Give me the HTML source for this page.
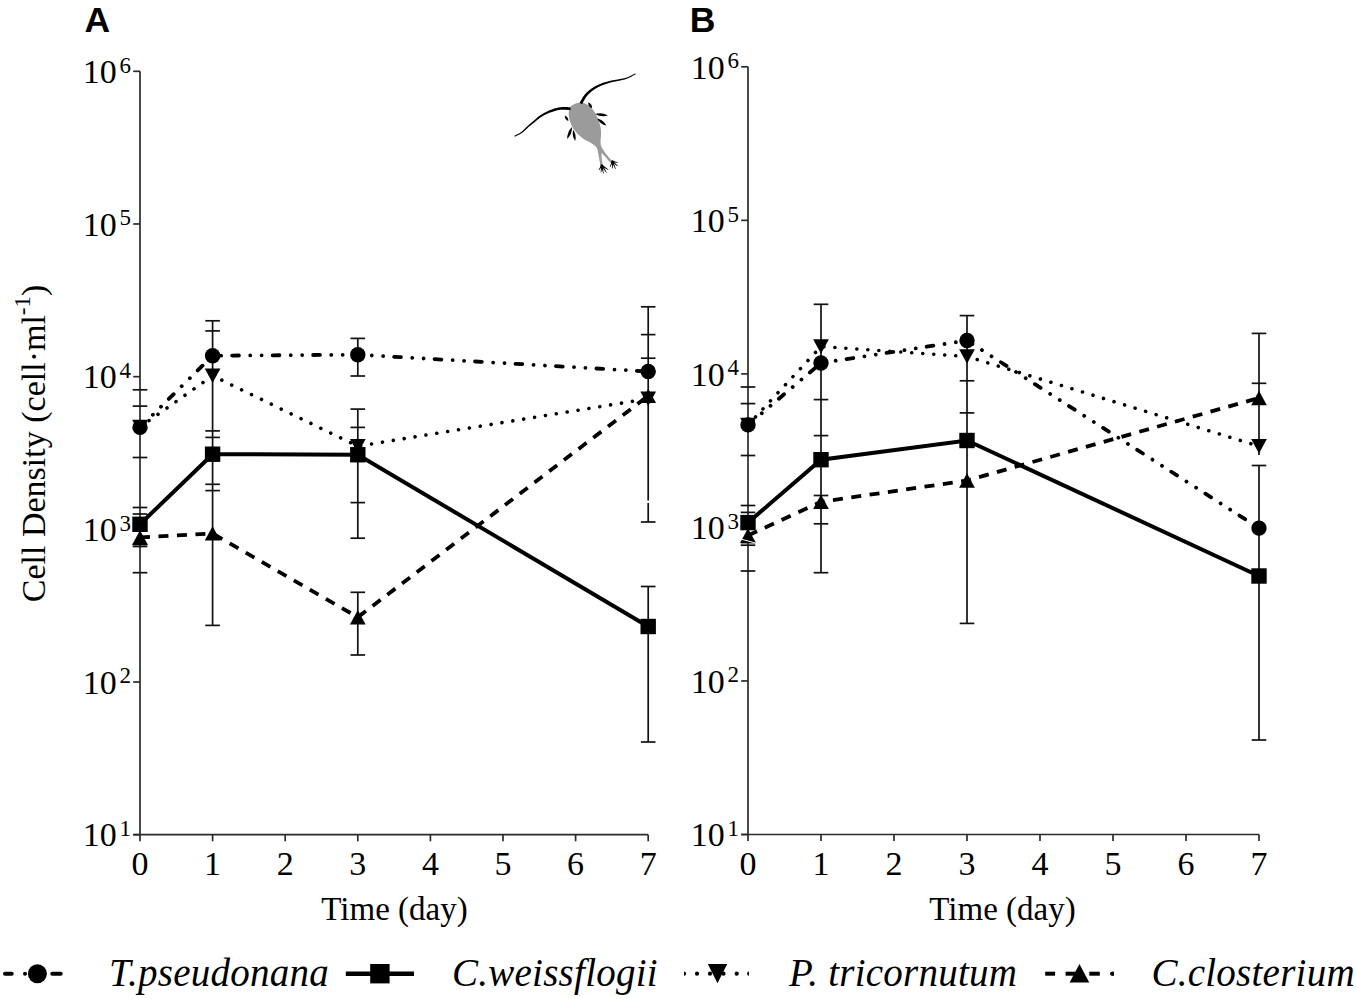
<!DOCTYPE html><html><head><meta charset="utf-8"><title>Cell density</title><style>
html,body{margin:0;padding:0;background:#fff;width:1356px;height:999px;overflow:hidden}
svg{display:block}
text{font-family:"Liberation Serif", serif}
text.sans{font-family:"Liberation Sans", sans-serif}
</style></head><body>
<svg width="1356" height="999" viewBox="0 0 1356 999">
<rect width="1356" height="999" fill="#fff"/>
<g stroke="#2a2a2a" stroke-width="1.7" fill="none">
<path d="M140.00,71.30 V841.30"/>
<path d="M133.20,834.70 H648.20"/>
<path d="M133.20,71.30 H140.00"/>
<path d="M133.20,223.98 H140.00"/>
<path d="M133.20,376.66 H140.00"/>
<path d="M133.20,529.34 H140.00"/>
<path d="M133.20,682.02 H140.00"/>
<path d="M133.20,834.70 H140.00"/>
<path d="M212.60,834.70 V841.30"/>
<path d="M285.20,834.70 V841.30"/>
<path d="M357.80,834.70 V841.30"/>
<path d="M430.40,834.70 V841.30"/>
<path d="M503.00,834.70 V841.30"/>
<path d="M575.60,834.70 V841.30"/>
<path d="M648.20,834.70 V841.30"/>
</g>
<text x="116.80" y="83.00" font-size="34" text-anchor="end">10</text>
<text x="119.40" y="72.70" font-size="23">6</text>
<text x="116.80" y="235.68" font-size="34" text-anchor="end">10</text>
<text x="119.40" y="225.38" font-size="23">5</text>
<text x="116.80" y="388.36" font-size="34" text-anchor="end">10</text>
<text x="119.40" y="378.06" font-size="23">4</text>
<text x="116.80" y="541.04" font-size="34" text-anchor="end">10</text>
<text x="119.40" y="530.74" font-size="23">3</text>
<text x="116.80" y="693.72" font-size="34" text-anchor="end">10</text>
<text x="119.40" y="683.42" font-size="23">2</text>
<text x="116.80" y="846.40" font-size="34" text-anchor="end">10</text>
<text x="119.40" y="836.10" font-size="23">1</text>
<text x="140.00" y="875.30" font-size="34" text-anchor="middle">0</text>
<text x="212.60" y="875.30" font-size="34" text-anchor="middle">1</text>
<text x="285.20" y="875.30" font-size="34" text-anchor="middle">2</text>
<text x="357.80" y="875.30" font-size="34" text-anchor="middle">3</text>
<text x="430.40" y="875.30" font-size="34" text-anchor="middle">4</text>
<text x="503.00" y="875.30" font-size="34" text-anchor="middle">5</text>
<text x="575.60" y="875.30" font-size="34" text-anchor="middle">6</text>
<text x="648.20" y="875.30" font-size="34" text-anchor="middle">7</text>
<text x="321.31" y="920.4" font-size="33">Time (day)</text>
<text x="84.60" y="32" font-size="35.5" font-weight="bold" class="sans">A</text>
<g stroke="#111" stroke-width="1.7" fill="none">
<path d="M132.70,389.80 H147.30"/>
<path d="M132.70,406.10 H147.30"/>
<path d="M132.70,457.50 H147.30"/>
<path d="M132.70,507.50 H147.30"/>
<path d="M132.70,514.00 H147.30"/>
<path d="M132.70,544.60 H147.30"/>
<path d="M132.70,546.50 H147.30"/>
<path d="M132.70,572.70 H147.30"/>
<path d="M212.60,320.80 V625.40"/>
<path d="M205.30,320.80 H219.90"/>
<path d="M205.30,330.90 H219.90"/>
<path d="M205.30,430.90 H219.90"/>
<path d="M205.30,437.40 H219.90"/>
<path d="M205.30,484.30 H219.90"/>
<path d="M205.30,490.60 H219.90"/>
<path d="M205.30,625.40 H219.90"/>
<path d="M357.80,338.40 V376.00"/>
<path d="M357.80,409.10 V538.20"/>
<path d="M357.80,592.30 V655.00"/>
<path d="M350.50,338.40 H365.10"/>
<path d="M350.50,376.00 H365.10"/>
<path d="M350.50,409.10 H365.10"/>
<path d="M350.50,427.40 H365.10"/>
<path d="M350.50,502.60 H365.10"/>
<path d="M350.50,538.20 H365.10"/>
<path d="M350.50,592.30 H365.10"/>
<path d="M350.50,655.00 H365.10"/>
<path d="M648.20,306.80 V500.50"/>
<path d="M648.20,503.00 V522.00"/>
<path d="M648.20,586.50 V742.00"/>
<path d="M640.90,306.80 H655.50"/>
<path d="M640.90,334.60 H655.50"/>
<path d="M640.90,358.20 H655.50"/>
<path d="M640.90,522.00 H655.50"/>
<path d="M640.90,586.50 H655.50"/>
<path d="M640.90,742.00 H655.50"/>
</g>
<polyline points="140.00,537.50 212.60,533.40 357.80,617.20 648.20,395.85" fill="none" stroke="#000" stroke-width="3.8" stroke-dasharray="10 8.5"/>
<polyline points="140.00,427.00 212.60,375.75 357.80,446.20 648.20,398.75" fill="none" stroke="#000" stroke-width="3.6" stroke-dasharray="0.01 11" stroke-linecap="round"/>
<polyline points="140.00,524.30 212.60,454.20 357.80,454.75 648.20,626.50" fill="none" stroke="#000" stroke-width="4.0" />
<polyline points="140.00,427.40 212.60,355.70 357.80,354.70 648.20,371.50" fill="none" stroke="#000" stroke-width="3.8" stroke-dasharray="6.8 11.3 0.01 11.4 0.01 11" stroke-linecap="round"/>
<path d="M140.00,530.30 L147.85,544.70 L132.15,544.70 Z"/>
<path d="M212.60,526.20 L220.45,540.60 L204.75,540.60 Z"/>
<path d="M357.80,610.00 L365.65,624.40 L349.95,624.40 Z"/>
<path d="M648.20,388.65 L656.05,403.05 L640.35,403.05 Z"/>
<path d="M140.00,434.20 L147.85,419.80 L132.15,419.80 Z"/>
<path d="M212.60,382.95 L220.45,368.55 L204.75,368.55 Z"/>
<path d="M357.80,453.40 L365.65,439.00 L349.95,439.00 Z"/>
<path d="M648.20,405.95 L656.05,391.55 L640.35,391.55 Z"/>
<rect x="132.30" y="516.60" width="15.40" height="15.40"/>
<rect x="204.90" y="446.50" width="15.40" height="15.40"/>
<rect x="350.10" y="447.05" width="15.40" height="15.40"/>
<rect x="640.50" y="618.80" width="15.40" height="15.40"/>
<circle cx="140.00" cy="427.40" r="7.70"/>
<circle cx="212.60" cy="355.70" r="7.70"/>
<circle cx="357.80" cy="354.70" r="7.70"/>
<circle cx="648.20" cy="371.50" r="7.70"/>
<g stroke="#2a2a2a" stroke-width="1.7" fill="none">
<path d="M748.00,66.80 V841.10"/>
<path d="M741.20,834.50 H1259.00"/>
<path d="M741.20,66.80 H748.00"/>
<path d="M741.20,220.34 H748.00"/>
<path d="M741.20,373.88 H748.00"/>
<path d="M741.20,527.42 H748.00"/>
<path d="M741.20,680.96 H748.00"/>
<path d="M741.20,834.50 H748.00"/>
<path d="M821.00,834.50 V841.10"/>
<path d="M894.00,834.50 V841.10"/>
<path d="M967.00,834.50 V841.10"/>
<path d="M1040.00,834.50 V841.10"/>
<path d="M1113.00,834.50 V841.10"/>
<path d="M1186.00,834.50 V841.10"/>
<path d="M1259.00,834.50 V841.10"/>
</g>
<text x="724.80" y="78.50" font-size="34" text-anchor="end">10</text>
<text x="727.40" y="68.20" font-size="23">6</text>
<text x="724.80" y="232.04" font-size="34" text-anchor="end">10</text>
<text x="727.40" y="221.74" font-size="23">5</text>
<text x="724.80" y="385.58" font-size="34" text-anchor="end">10</text>
<text x="727.40" y="375.28" font-size="23">4</text>
<text x="724.80" y="539.12" font-size="34" text-anchor="end">10</text>
<text x="727.40" y="528.82" font-size="23">3</text>
<text x="724.80" y="692.66" font-size="34" text-anchor="end">10</text>
<text x="727.40" y="682.36" font-size="23">2</text>
<text x="724.80" y="846.20" font-size="34" text-anchor="end">10</text>
<text x="727.40" y="835.90" font-size="23">1</text>
<text x="748.00" y="875.30" font-size="34" text-anchor="middle">0</text>
<text x="821.00" y="875.30" font-size="34" text-anchor="middle">1</text>
<text x="894.00" y="875.30" font-size="34" text-anchor="middle">2</text>
<text x="967.00" y="875.30" font-size="34" text-anchor="middle">3</text>
<text x="1040.00" y="875.30" font-size="34" text-anchor="middle">4</text>
<text x="1113.00" y="875.30" font-size="34" text-anchor="middle">5</text>
<text x="1186.00" y="875.30" font-size="34" text-anchor="middle">6</text>
<text x="1259.00" y="875.30" font-size="34" text-anchor="middle">7</text>
<text x="929.31" y="920.4" font-size="33">Time (day)</text>
<text x="689.70" y="32" font-size="35.5" font-weight="bold" class="sans">B</text>
<g stroke="#111" stroke-width="1.7" fill="none">
<path d="M740.70,387.00 H755.30"/>
<path d="M740.70,403.60 H755.30"/>
<path d="M740.70,455.50 H755.30"/>
<path d="M740.70,505.50 H755.30"/>
<path d="M740.70,512.40 H755.30"/>
<path d="M740.70,542.60 H755.30"/>
<path d="M740.70,545.20 H755.30"/>
<path d="M740.70,571.00 H755.30"/>
<path d="M821.00,304.30 V572.70"/>
<path d="M813.70,304.30 H828.30"/>
<path d="M813.70,399.60 H828.30"/>
<path d="M813.70,435.60 H828.30"/>
<path d="M813.70,495.50 H828.30"/>
<path d="M813.70,523.80 H828.30"/>
<path d="M813.70,572.70 H828.30"/>
<path d="M967.00,315.60 V623.40"/>
<path d="M959.70,315.60 H974.30"/>
<path d="M959.70,380.80 H974.30"/>
<path d="M959.70,412.90 H974.30"/>
<path d="M959.70,623.40 H974.30"/>
<path d="M1259.00,333.40 V455.00"/>
<path d="M1259.00,465.50 V740.00"/>
<path d="M1251.70,333.40 H1266.30"/>
<path d="M1251.70,383.30 H1266.30"/>
<path d="M1251.70,465.50 H1266.30"/>
<path d="M1251.70,740.00 H1266.30"/>
</g>
<polyline points="748.00,535.50 821.00,501.80 967.00,480.50 1259.00,397.95" fill="none" stroke="#000" stroke-width="3.8" stroke-dasharray="10 8.5"/>
<polyline points="748.00,425.00 821.00,346.50 967.00,356.50 1259.00,446.20" fill="none" stroke="#000" stroke-width="3.6" stroke-dasharray="0.01 11" stroke-linecap="round"/>
<polyline points="748.00,522.60 821.00,459.70 967.00,440.50 1259.00,576.00" fill="none" stroke="#000" stroke-width="4.0" />
<polyline points="748.00,424.90 821.00,363.00 967.00,340.50 1259.00,528.10" fill="none" stroke="#000" stroke-width="3.8" stroke-dasharray="6.8 11.3 0.01 11.4 0.01 11" stroke-linecap="round"/>
<path d="M748.00,528.30 L755.85,542.70 L740.15,542.70 Z"/>
<path d="M821.00,494.60 L828.85,509.00 L813.15,509.00 Z"/>
<path d="M967.00,473.30 L974.85,487.70 L959.15,487.70 Z"/>
<path d="M1259.00,390.75 L1266.85,405.15 L1251.15,405.15 Z"/>
<path d="M748.00,432.20 L755.85,417.80 L740.15,417.80 Z"/>
<path d="M821.00,353.70 L828.85,339.30 L813.15,339.30 Z"/>
<path d="M967.00,363.70 L974.85,349.30 L959.15,349.30 Z"/>
<path d="M1259.00,453.40 L1266.85,439.00 L1251.15,439.00 Z"/>
<rect x="740.30" y="514.90" width="15.40" height="15.40"/>
<rect x="813.30" y="452.00" width="15.40" height="15.40"/>
<rect x="959.30" y="432.80" width="15.40" height="15.40"/>
<rect x="1251.30" y="568.30" width="15.40" height="15.40"/>
<circle cx="748.00" cy="424.90" r="7.70"/>
<circle cx="821.00" cy="363.00" r="7.70"/>
<circle cx="967.00" cy="340.50" r="7.70"/>
<circle cx="1259.00" cy="528.10" r="7.70"/>
<path d="M740.9,539.1 L755.6,543" stroke="#fff" stroke-width="1"/>
<text transform="translate(44.5,602.2) rotate(-90)" font-size="34">Cell Density (cell&#183;ml<tspan font-size="23" dy="-14.5">-1</tspan><tspan dy="14.5">)</tspan></text>
<g stroke="#000" stroke-width="4" stroke-linecap="round">
<path d="M5,973.7 H11.7"/>
<path d="M25,973.7 h0.01"/>
<path d="M52.3,973.7 H60.7"/>
</g>
<circle cx="37.4" cy="973.7" r="9.5" fill="#000"/>
<text x="109.06" y="985.7" font-size="39" font-style="italic" letter-spacing="0.25">T.pseudonana</text>
<path d="M345.8,973.7 H414" stroke="#000" stroke-width="4.5"/>
<rect x="370.2" y="964.0" width="19.4" height="19.4" fill="#000"/>
<text x="452.02" y="985.7" font-size="39" font-style="italic" letter-spacing="0.25">C.weissflogii</text>
<clipPath id="lc3"><rect x="684" y="960" width="65" height="30"/></clipPath>
<g stroke="#000" stroke-width="4.2" stroke-linecap="round" clip-path="url(#lc3)">
<path d="M684.0,973.7 h0.01"/>
<path d="M697.0,973.7 h0.01"/>
<path d="M710.0,973.7 h0.01"/>
<path d="M723.5,973.7 h0.01"/>
<path d="M736.7,973.7 h0.01"/>
<path d="M749.2,973.7 h0.01"/>
</g>
<path d="M707.8,964 L727.2,964 L717.5,983.2 Z" fill="#000"/>
<text x="789.1" y="985.7" font-size="39" font-style="italic" letter-spacing="0.25">P. tricornutum</text>
<g stroke="#000" stroke-width="4">
<path d="M1045.2,973.7 H1055.1"/>
<path d="M1065.6,973.7 H1076.1"/>
<path d="M1089.3,973.7 H1099.8"/>
</g>
<circle cx="1112" cy="973.7" r="2" fill="#000"/><rect x="1112" y="971.7" width="2" height="4" fill="#000"/>
<path d="M1069.6,982.5 L1089.3,982.5 L1079.45,964.1 Z" fill="#000"/>
<text x="1151.42" y="985.7" font-size="39" font-style="italic" letter-spacing="0.25">C.closterium</text>
<g><path d="M570.40,107.00 L571.03,106.25 L571.79,105.58 L572.63,104.98 L573.55,104.44 L574.51,103.99 L575.50,103.60 L576.54,103.28 L577.67,103.02 L578.84,102.83 L580.03,102.73 L581.19,102.71 L582.30,102.80 L583.36,103.00 L584.39,103.29 L585.41,103.68 L586.40,104.15 L587.36,104.69 L588.30,105.30 L589.21,105.97 L590.10,106.71 L590.96,107.53 L591.80,108.41 L592.61,109.37 L593.40,110.40 L594.17,111.53 L594.93,112.78 L595.66,114.09 L596.35,115.44 L597.00,116.79 L597.60,118.10 L598.15,119.37 L598.65,120.64 L599.11,121.90 L599.52,123.16 L599.88,124.43 L600.20,125.70 L600.46,126.98 L600.68,128.26 L600.84,129.54 L600.97,130.83 L601.05,132.12 L601.10,133.40 L601.08,134.71 L600.99,136.05 L600.86,137.39 L600.73,138.70 L600.63,139.95 L600.60,141.10 L600.61,142.13 L600.63,143.05 L600.69,143.91 L600.80,144.74 L601.00,145.59 L601.30,146.50 L601.72,147.45 L602.23,148.40 L602.82,149.37 L603.49,150.37 L604.22,151.41 L605.00,152.50 L605.91,153.73 L606.97,155.09 L608.09,156.50 L609.20,157.85 L610.19,159.05 L611.00,160.00 L611.64,160.66 L612.18,161.11 L612.61,161.41 L612.93,161.61 L613.13,161.79 L613.20,162.00 L613.14,162.32 L612.97,162.72 L612.68,163.09 L612.25,163.33 L611.70,163.34 L611.00,163.00 L610.06,162.17 L608.86,160.91 L607.52,159.41 L606.18,157.87 L604.96,156.50 L604.00,155.50 L603.28,154.74 L602.70,154.04 L602.25,153.50 L601.91,153.24 L601.66,153.37 L601.50,154.00 L601.50,155.41 L601.67,157.57 L601.95,160.12 L602.24,162.70 L602.45,164.95 L602.50,166.50 L602.38,167.42 L602.16,168.02 L601.86,168.28 L601.51,168.20 L601.15,167.78 L600.80,167.00 L600.45,165.67 L600.07,163.76 L599.67,161.50 L599.27,159.13 L598.87,156.88 L598.50,155.00 L598.19,153.46 L597.95,152.06 L597.71,150.79 L597.43,149.63 L597.04,148.54 L596.50,147.50 L595.78,146.54 L594.91,145.68 L593.95,144.90 L592.92,144.17 L591.86,143.48 L590.80,142.80 L589.73,142.18 L588.61,141.63 L587.47,141.12 L586.31,140.60 L585.15,140.01 L584.00,139.30 L582.85,138.47 L581.67,137.54 L580.49,136.56 L579.34,135.52 L578.23,134.46 L577.20,133.40 L576.22,132.32 L575.28,131.20 L574.38,130.06 L573.54,128.90 L572.78,127.74 L572.10,126.60 L571.51,125.47 L571.01,124.33 L570.59,123.20 L570.22,122.07 L569.89,120.93 L569.60,119.80 L569.33,118.66 L569.09,117.50 L568.89,116.35 L568.75,115.21 L568.68,114.09 L568.70,113.00 L568.79,111.92 L568.95,110.84 L569.18,109.79 L569.49,108.78 L569.89,107.84 Z" fill="#9b9b9b"/>
<path d="M570.57,107.25 L570.05,107.23 L569.37,107.20 L568.54,107.16 L567.61,107.11 L566.61,107.06 L565.56,107.02 L564.50,107.00 L563.45,107.00 L562.44,107.02 L561.51,107.08 L560.64,107.18 L559.81,107.29 L558.99,107.43 L558.20,107.58 L557.41,107.76 L556.64,107.95 L555.87,108.15 L555.10,108.37 L554.33,108.60 L553.55,108.85 L552.75,109.12 L551.93,109.40 L551.11,109.71 L550.30,110.03 L549.48,110.37 L548.67,110.71 L547.88,111.06 L547.11,111.42 L546.36,111.77 L545.63,112.13 L544.94,112.48 L544.26,112.83 L543.61,113.19 L542.97,113.55 L542.35,113.92 L541.73,114.30 L541.13,114.68 L540.53,115.07 L539.94,115.48 L539.34,115.90 L538.75,116.34 L538.17,116.79 L537.60,117.25 L537.05,117.72 L536.50,118.20 L535.96,118.68 L535.42,119.16 L534.87,119.65 L534.31,120.14 L533.74,120.63 L533.16,121.13 L532.56,121.64 L531.95,122.16 L531.34,122.68 L530.72,123.21 L530.10,123.74 L529.47,124.29 L528.85,124.83 L528.23,125.38 L527.60,125.94 L526.98,126.52 L526.38,127.11 L525.78,127.72 L525.18,128.33 L524.59,128.93 L523.99,129.52 L523.39,130.10 L522.79,130.66 L522.17,131.20 L521.53,131.69 L520.85,132.18 L520.08,132.68 L519.27,133.17 L518.44,133.65 L517.60,134.12 L516.80,134.55 L516.05,134.95 L515.37,135.31 L514.80,135.61 L514.36,135.86 L514.84,136.74 L515.28,136.51 L515.85,136.23 L516.53,135.89 L517.30,135.51 L518.12,135.10 L518.98,134.65 L519.85,134.18 L520.70,133.70 L521.52,133.20 L522.27,132.71 L522.96,132.19 L523.63,131.65 L524.29,131.08 L524.92,130.50 L525.55,129.91 L526.16,129.32 L526.77,128.73 L527.38,128.15 L527.98,127.60 L528.60,127.06 L529.22,126.53 L529.85,126.01 L530.48,125.48 L531.12,124.97 L531.75,124.45 L532.39,123.94 L533.01,123.44 L533.64,122.94 L534.25,122.45 L534.86,121.97 L535.45,121.48 L536.03,121.00 L536.59,120.52 L537.15,120.06 L537.70,119.60 L538.24,119.15 L538.79,118.72 L539.33,118.30 L539.89,117.89 L540.46,117.50 L541.04,117.11 L541.62,116.74 L542.20,116.38 L542.79,116.03 L543.38,115.69 L543.98,115.36 L544.60,115.03 L545.23,114.71 L545.89,114.39 L546.57,114.07 L547.27,113.75 L548.01,113.43 L548.77,113.11 L549.54,112.79 L550.33,112.48 L551.13,112.18 L551.92,111.90 L552.71,111.63 L553.49,111.38 L554.25,111.15 L555.01,110.94 L555.76,110.73 L556.49,110.55 L557.22,110.37 L557.95,110.22 L558.68,110.08 L559.42,109.96 L560.16,109.86 L560.92,109.78 L561.69,109.72 L562.52,109.69 L563.44,109.69 L564.43,109.72 L565.44,109.77 L566.45,109.84 L567.43,109.91 L568.35,109.99 L569.18,110.06 L569.88,110.11 L570.43,110.15 Z" fill="#000"/>
<path d="M582.05,104.23 L582.32,103.76 L582.65,103.14 L583.04,102.42 L583.47,101.62 L583.93,100.77 L584.42,99.89 L584.92,99.03 L585.42,98.20 L585.90,97.45 L586.36,96.79 L586.80,96.21 L587.26,95.64 L587.73,95.11 L588.20,94.59 L588.68,94.09 L589.17,93.61 L589.67,93.13 L590.19,92.67 L590.72,92.20 L591.26,91.74 L591.82,91.29 L592.38,90.85 L592.96,90.41 L593.54,89.99 L594.14,89.57 L594.75,89.17 L595.36,88.78 L595.98,88.40 L596.60,88.03 L597.23,87.67 L597.85,87.33 L598.47,87.01 L599.10,86.69 L599.73,86.39 L600.37,86.10 L601.02,85.82 L601.68,85.55 L602.35,85.27 L603.04,85.00 L603.74,84.74 L604.45,84.47 L605.18,84.21 L605.93,83.96 L606.68,83.71 L607.45,83.46 L608.22,83.22 L608.99,82.99 L609.77,82.77 L610.54,82.56 L611.31,82.35 L612.06,82.16 L612.83,81.99 L613.59,81.83 L614.37,81.67 L615.14,81.53 L615.92,81.38 L616.70,81.23 L617.49,81.08 L618.27,80.92 L619.05,80.75 L619.84,80.57 L620.64,80.39 L621.44,80.21 L622.26,80.03 L623.06,79.84 L623.86,79.65 L624.64,79.45 L625.39,79.25 L626.12,79.03 L626.80,78.81 L627.45,78.58 L628.06,78.33 L628.64,78.08 L629.20,77.81 L629.72,77.55 L630.23,77.29 L630.71,77.03 L631.17,76.77 L631.62,76.53 L632.05,76.30 L632.50,76.07 L632.94,75.82 L633.37,75.58 L633.79,75.34 L634.19,75.11 L634.56,74.89 L634.89,74.68 L635.19,74.51 L635.44,74.35 L635.65,74.24 L635.15,73.36 L634.94,73.48 L634.68,73.63 L634.38,73.80 L634.04,73.99 L633.66,74.19 L633.27,74.41 L632.85,74.64 L632.42,74.86 L631.99,75.08 L631.55,75.30 L631.10,75.52 L630.63,75.75 L630.17,75.99 L629.69,76.23 L629.19,76.48 L628.68,76.71 L628.15,76.95 L627.59,77.17 L627.01,77.39 L626.40,77.59 L625.75,77.78 L625.05,77.96 L624.31,78.14 L623.55,78.31 L622.76,78.47 L621.96,78.63 L621.15,78.79 L620.34,78.95 L619.53,79.10 L618.75,79.25 L617.97,79.40 L617.20,79.54 L616.43,79.66 L615.64,79.79 L614.86,79.91 L614.07,80.04 L613.28,80.17 L612.48,80.32 L611.69,80.47 L610.89,80.65 L610.10,80.83 L609.31,81.03 L608.51,81.23 L607.71,81.44 L606.91,81.66 L606.12,81.89 L605.34,82.13 L604.57,82.37 L603.81,82.61 L603.06,82.86 L602.34,83.12 L601.63,83.37 L600.92,83.63 L600.23,83.90 L599.54,84.17 L598.86,84.46 L598.19,84.75 L597.52,85.06 L596.84,85.39 L596.17,85.73 L595.51,86.09 L594.84,86.45 L594.18,86.84 L593.52,87.23 L592.87,87.64 L592.22,88.06 L591.59,88.49 L590.96,88.93 L590.34,89.39 L589.74,89.86 L589.15,90.33 L588.58,90.80 L588.01,91.28 L587.46,91.77 L586.91,92.28 L586.36,92.81 L585.83,93.37 L585.30,93.95 L584.77,94.56 L584.24,95.21 L583.70,95.93 L583.15,96.74 L582.59,97.61 L582.05,98.50 L581.52,99.38 L581.02,100.24 L580.56,101.04 L580.15,101.75 L579.81,102.33 L579.55,102.77 Z" fill="#000"/>
<path d="M588.20,102.60 Q587.95,106.86 592.00,108.20 Q592.25,103.94 588.20,102.60 Z" fill="#000"/>
<path d="M595.00,114.00 Q601.16,117.58 608.00,115.60 Q601.84,112.02 595.00,114.00 Z" fill="#000"/>
<path d="M597.20,118.40 Q600.07,124.21 606.40,125.60 Q603.53,119.79 597.20,118.40 Z" fill="#000"/>
<path d="M564.80,115.40 Q564.58,119.50 568.40,121.00 Q568.62,116.90 564.80,115.40 Z" fill="#000"/>
<path d="M572.00,127.00 Q567.00,131.96 567.20,139.00 Q572.20,134.04 572.00,127.00 Z" fill="#000"/>
<path d="M573.20,129.80 Q571.64,135.86 575.20,141.00 Q576.76,134.94 573.20,129.80 Z" fill="#000"/>
<path d="M601.13,165.07 L598.59,170.07 L599.01,170.33 L602.47,165.93 Z" fill="#000"/>
<path d="M601.01,165.41 L600.75,172.47 L601.25,172.53 L602.59,165.59 Z" fill="#000"/>
<path d="M601.02,165.66 L603.26,173.85 L603.74,173.75 L602.58,165.34 Z" fill="#000"/>
<path d="M601.13,165.94 L606.29,172.74 L606.71,172.46 L602.47,165.06 Z" fill="#000"/>
<path d="M601.35,166.16 L608.06,170.01 L608.34,169.59 L602.25,164.84 Z" fill="#000"/>
<circle cx="601.80" cy="165.50" r="1.3" fill="#000"/>
<path d="M611.77,161.17 L609.77,166.90 L610.23,167.10 L613.23,161.83 Z" fill="#000"/>
<path d="M611.70,161.50 L612.25,168.60 L612.75,168.60 L613.30,161.50 Z" fill="#000"/>
<path d="M611.76,161.80 L615.27,168.90 L615.73,168.70 L613.24,161.20 Z" fill="#000"/>
<path d="M611.97,162.10 L617.43,166.19 L617.77,165.81 L613.03,160.90 Z" fill="#000"/>
<path d="M612.35,162.29 L617.75,162.75 L617.85,162.25 L612.65,160.71 Z" fill="#000"/>
<circle cx="612.50" cy="161.50" r="1.3" fill="#000"/></g>
</svg></body></html>
